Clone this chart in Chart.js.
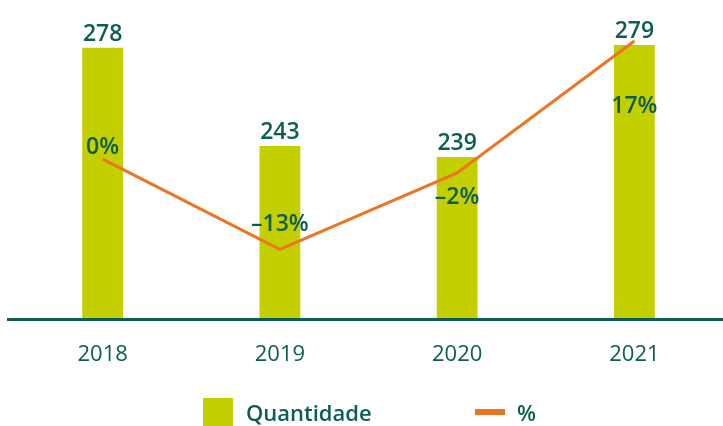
<!DOCTYPE html>
<html>
<head>
<meta charset="utf-8">
<script src="https://cdn.jsdelivr.net/npm/chart.js@4.4.1/dist/chart.umd.min.js"></script>
<style>
    body { margin: 0; background: #fff; font-family: 'Open Sans', sans-serif; }
    #wrap { position: relative; width: 723px; height: 426px; }
    #legend { position: absolute; top: 398px; left: 0; width: 723px; height: 28px; }
    .item { position: absolute; top: 0; display: flex; align-items: center; height: 28px;
        color: #0b5e50; font-weight: 600; font-size: 22px; }
    .box { width: 30px; height: 28px; background: #c4cf00; margin-right: 13px; }
    .dash { width: 30px; height: 6px; background: #ec7423; margin-right: 12px; }
</style>
</head>
<body>
<div id="wrap">
    <canvas id="myChart" width="723" height="426"></canvas>
    <div id="legend">
        <div class="item" style="left:203px"><span class="box"></span>Quantidade</div>
        <div class="item" style="left:475px"><span class="dash"></span>%</div>
    </div>
</div>
<script>
const ctx = document.getElementById('myChart');

const years = ['2018', '2019', '2020', '2021'];
const quantidade = [278, 243, 239, 279];
const percentual = [0, -13, -2, 17];

const green = '#0b5e50';
const lime = '#c4cf00';
const orange = '#ec7423';

// vertical shift of each % label relative to its point
const pctOffsets = [-12, -25, 24, 66];

const labelsPlugin = {
    id: 'valueLabels',
    afterDatasetsDraw(chart) {
        const c = chart.ctx;
        c.save();
        c.fillStyle = green;
        c.textAlign = 'center';

        const bars = chart.getDatasetMeta(0).data;
        c.font = '600 23px "Open Sans"';
        c.textBaseline = 'alphabetic';
        bars.forEach((bar, i) => {
            c.fillText(quantidade[i], bar.x, bar.y - 7);
        });

        const points = chart.getDatasetMeta(1).data;
        c.font = '600 23px "Open Sans"';
        c.textBaseline = 'middle';
        points.forEach((pt, i) => {
            const v = percentual[i];
            const txt = (v < 0 ? '\u2013' + Math.abs(v) : v) + '%';
            c.fillText(txt, pt.x, pt.y + pctOffsets[i]);
        });

        // axis line
        const area = chart.chartArea;
        c.strokeStyle = green;
        c.lineWidth = 3;
        c.beginPath();
        c.moveTo(7, area.bottom);
        c.lineTo(723, area.bottom);
        c.stroke();
        c.restore();
    }
};

const data = {
    labels: years,
    datasets: [{
        type: 'bar',
        label: 'Quantidade',
        data: quantidade,
        backgroundColor: lime,
        barPercentage: 0.23,
        categoryPercentage: 1,
        yAxisID: 'y',
        order: 2
    }, {
        type: 'line',
        label: '%',
        data: percentual,
        borderColor: orange,
        borderWidth: 3,
        pointRadius: 0,
        tension: 0,
        yAxisID: 'y1',
        order: 1
    }]
};

const config = {
    data: data,
    options: {
        responsive: false,
        animation: false,
        layout: { padding: { left: 14, right: 0, top: 10, bottom: 36 } },
        plugins: {
            legend: { display: false },
            tooltip: { enabled: false }
        },
        scales: {
            x: {
                grid: { display: false, drawTicks: false },
                border: { display: false },
                ticks: {
                    color: green,
                    font: { family: 'Open Sans', size: 22 },
                    padding: 22
                }
            },
            y: { display: false, min: 181, max: 291.5 },
            y1: { display: false, min: -23.1, max: 21.45 }
        }
    },
    plugins: [labelsPlugin]
};

const chart = new Chart(ctx, config);
</script>
</body>
</html>
